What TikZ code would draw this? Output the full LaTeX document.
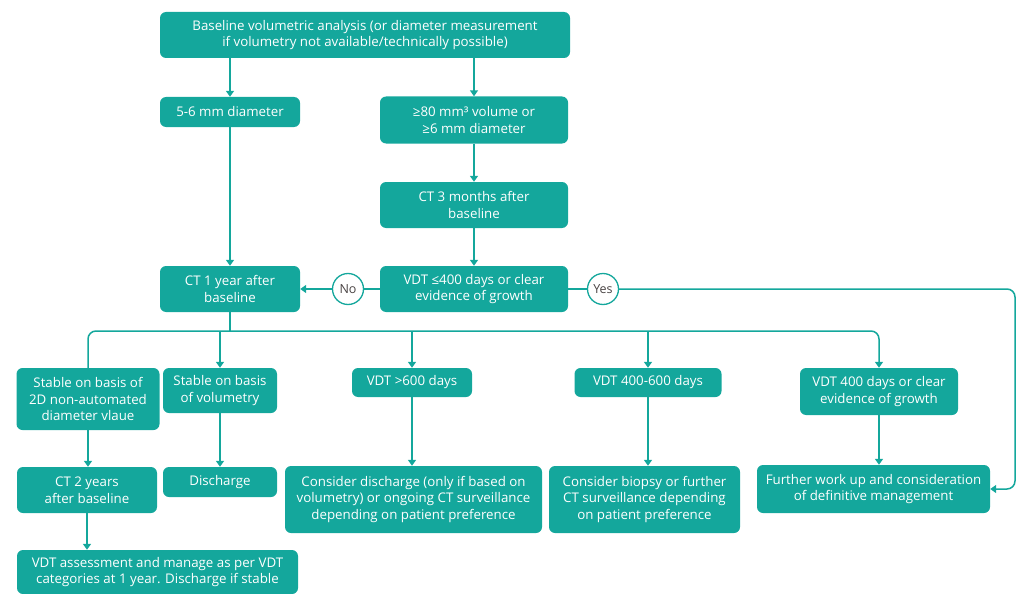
\documentclass[tikz,border=0pt]{standalone}
\usepackage{fontspec}
\setmainfont{Open Sans}
\usetikzlibrary{arrows.meta,calc}
\definecolor{teal1}{HTML}{14A79C}
\definecolor{lbl}{HTML}{4A4444}
\begin{document}
\begin{tikzpicture}[x=1pt,y=-1pt,
  box/.style={draw=none,fill=teal1,text=white,rounded corners=6pt,inner sep=0pt,align=center,
    font=\fontsize{13.3}{16.5}\selectfont},
  circ/.style={circle,draw=teal1,line width=1.3pt,fill=white,text=lbl,inner sep=0pt,minimum size=31pt,
    font=\fontsize{12.5}{14}\selectfont},
  conn/.style={draw=teal1,line width=1.5pt},
  arr/.style={conn,-{Triangle[width=8pt,length=6pt]}}]
\useasboundingbox (0,0) rectangle (1018,594);

\node[box,minimum width=410pt,minimum height=46pt] (top) at (365,35) {Baseline volumetric analysis (or diameter measurement\\if volumetry not available/technically possible)};
\node[box,minimum width=140pt,minimum height=30pt] (d56) at (230,112) {5-6 mm diameter};
\node[box,minimum width=188pt,minimum height=47pt] (v80) at (474,120) {≥80 mm³ volume or\\≥6 mm diameter};
\node[box,minimum width=188pt,minimum height=46pt] (ct3) at (474,205) {CT 3 months after\\baseline};
\node[box,minimum width=140pt,minimum height=46pt] (ct1) at (230,289) {CT 1 year after\\baseline};
\node[box,minimum width=188pt,minimum height=46pt] (vdt) at (474,289) {VDT ≤400 days or clear\\evidence of growth};
\node[circ] (no) at (348,289) {No};
\node[circ] (yes) at (603,289) {Yes};

\node[box,minimum width=143pt,minimum height=62pt] (s2d) at (88,399) {Stable on basis of\\2D non-automated\\diameter vlaue};
\node[box,minimum width=114pt,minimum height=45pt] (svol) at (220,390.5) {Stable on basis\\of volumetry};
\node[box,minimum width=120pt,minimum height=29pt] (v600) at (412,382.5) {VDT >600 days};
\node[box,minimum width=147pt,minimum height=29pt] (v46) at (648,382.5) {VDT 400-600 days};
\node[box,minimum width=158pt,minimum height=47pt] (v400) at (879,391.5) {VDT 400 days or clear\\evidence of growth};

\node[box,minimum width=140pt,minimum height=46pt] (ct2) at (87,490) {CT 2 years\\after baseline};
\node[box,minimum width=114pt,minimum height=30pt] (dis) at (220,482) {Discharge};
\node[box,minimum width=257pt,minimum height=67pt] (cdis) at (413.5,499.5) {Consider discharge (only if based on\\volumetry) or ongoing CT surveillance\\depending on patient preference};
\node[box,minimum width=191pt,minimum height=67pt] (cbio) at (644.5,499.5) {Consider biopsy or further\\CT surveillance depending\\on patient preference};
\node[box,minimum width=233pt,minimum height=48pt] (fw) at (873.5,489) {Further work up and consideration\\of definitive management};
\node[box,minimum width=281pt,minimum height=44pt] (vdta) at (157.5,572) {VDT assessment and manage as per VDT\\categories at 1 year. Discharge if stable};

\coordinate (br) at (230,331);
\coordinate (yr) at (1015,289);
\coordinate (yb) at (1015,489);

\draw[arr] (d56 |- top.south) -- (d56.north);
\draw[arr] (v80 |- top.south) -- (v80.north);
\draw[arr] (v80.south) -- (ct3.north);
\draw[arr] (ct3.south) -- (vdt.north);
\draw[arr] (d56.south) -- (ct1.north);
\draw[conn] (vdt.west) -- (no.east);
\draw[arr] (no.west) -- (ct1.east);
\draw[conn] (vdt.east) -- (yes.west);
\draw[arr,rounded corners=8pt] (yes.east) -- (yr) -- (yb) -- (fw.east);

\draw[conn] (ct1.south) -- (br);
\draw[arr,rounded corners=8pt] (s2d.north) |- (br) -| (v400.north);
\draw[arr] (svol |- br) -- (svol.north);
\draw[arr] (v600 |- br) -- (v600.north);
\draw[arr] (v46 |- br) -- (v46.north);

\draw[arr] (s2d.south) -- (s2d.south |- ct2.north);
\draw[arr] (svol.south) -- (dis.north);
\draw[arr] (v600.south) -- (v600.south |- cdis.north);
\draw[arr] (v46.south) -- (v46.south |- cbio.north);
\draw[arr] (v400.south) -- (v400.south |- fw.north);
\draw[arr] (ct2.south) -- (ct2.south |- vdta.north);
\end{tikzpicture}
\end{document}
